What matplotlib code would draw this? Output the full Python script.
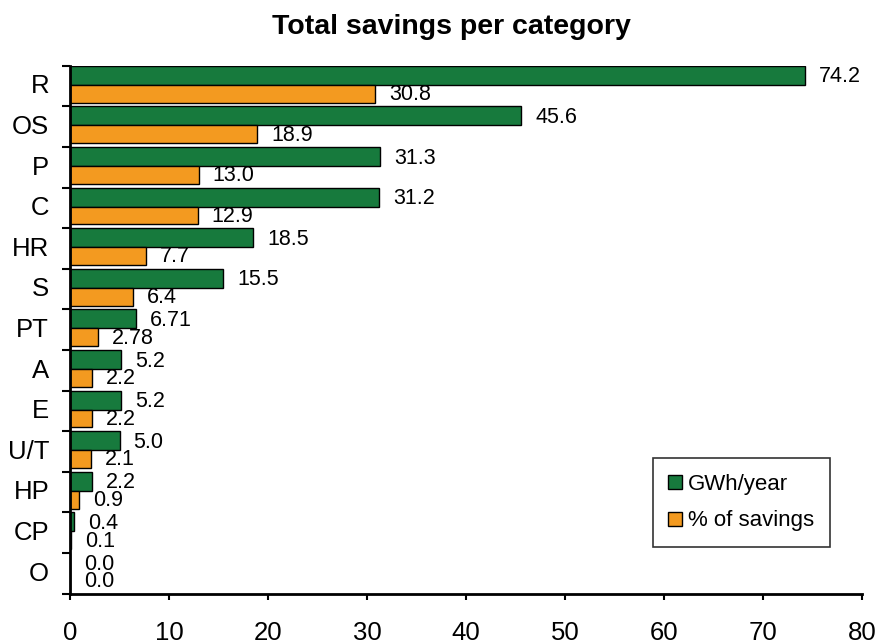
import matplotlib.pyplot as plt
import numpy as np

plt.rcParams['font.family'] = ['Liberation Sans', 'DejaVu Sans']

categories = ["R", "OS", "P", "C", "HR", "S", "PT", "A", "E", "U/T", "HP", "CP", "O"]
gwh_year = [74.2, 45.6, 31.3, 31.2, 18.5, 15.5, 6.71, 5.2, 5.2, 5.0, 2.2, 0.4, 0.0]
pct_savings = [30.8, 18.9, 13.0, 12.9, 7.7, 6.4, 2.78, 2.2, 2.2, 2.1, 0.9, 0.1, 0.0]
gwh_labels = ["74.2", "45.6", "31.3", "31.2", "18.5", "15.5", "6.71", "5.2", "5.2", "5.0", "2.2", "0.4", "0.0"]
pct_labels = ["30.8", "18.9", "13.0", "12.9", "7.7", "6.4", "2.78", "2.2", "2.2", "2.1", "0.9", "0.1", "0.0"]

GREEN = "#177a3d"
ORANGE = "#f39a20"

fig = plt.figure(figsize=(8.77, 6.44), dpi=100)
ax = fig.add_axes([70 / 877, 1 - 593.5 / 644, 792 / 877, (593.5 - 65.7) / 644])

n = len(categories)
pos = np.arange(n)
h_g = 0.47
h_o = 0.44

# group i spans [i, i+1] with the axis inverted
ax.barh(pos + h_g / 2, gwh_year, height=h_g, color=GREEN, edgecolor="black",
        linewidth=1.0, label="GWh/year", zorder=2)
ax.barh(pos + h_g + h_o / 2, pct_savings, height=h_o, color=ORANGE, edgecolor="black",
        linewidth=1.0, label="% of savings", zorder=2)

for i in range(n):
    ax.annotate(gwh_labels[i], (gwh_year[i], pos[i] + h_g / 2 + 0.04),
                xytext=(10, 0), textcoords="offset points", va="center", ha="left", fontsize=15.5)
    ax.annotate(pct_labels[i], (pct_savings[i], pos[i] + h_g + h_o / 2 + 0.02),
                xytext=(10, 0), textcoords="offset points", va="center", ha="left", fontsize=15.5)

ax.set_xlim(0, 80)
ax.set_ylim(n, 0)
ax.set_xticks(range(0, 81, 10))
ax.set_yticks(np.arange(n + 1))
ax.set_yticklabels([])
ax.set_yticks(pos + 0.45, minor=True)
ax.set_yticklabels(categories, minor=True)

ax.tick_params(axis="y", which="major", direction="out", length=6, width=1.5)
ax.tick_params(axis="y", which="minor", length=0, pad=15, labelsize=18.5)
ax.tick_params(axis="x", direction="out", length=4, width=1.5, pad=16, labelsize=18.5)

ax.spines["top"].set_visible(False)
ax.spines["right"].set_visible(False)
ax.spines["left"].set_linewidth(2)
ax.spines["bottom"].set_linewidth(2)

leg = ax.legend(loc="lower right", bbox_to_anchor=(760 / 792, (593.5 - 547) / 527.8),
                borderaxespad=0, fontsize=16, frameon=True, fancybox=False, edgecolor="black",
                handlelength=0.6, handleheight=0.6, handletextpad=0.3,
                labelspacing=0.7, borderpad=0.7)
leg.get_frame().set_linewidth(1.2)

fig.text(451 / 877, 1 - 27 / 644, "Total savings per category", ha="center", va="center",
         fontsize=20.5, fontweight="bold")

fig.savefig("out.png", dpi=100)
